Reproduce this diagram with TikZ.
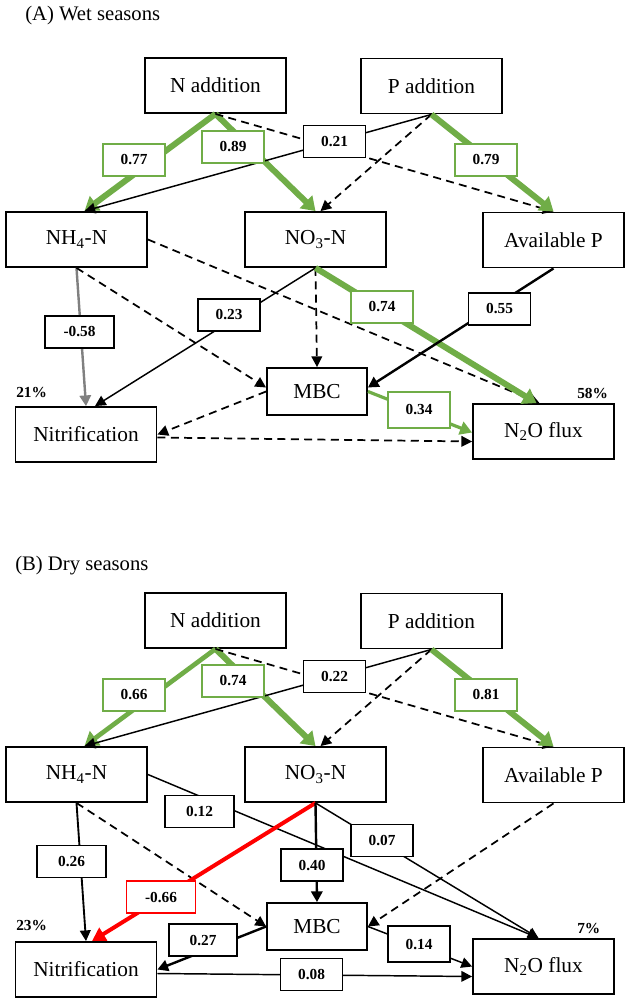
\documentclass[tikz,border=0pt]{standalone}
\usepackage{fontspec}
\setmainfont{Liberation Serif}
\usetikzlibrary{arrows.meta,calc}
\definecolor{sem}{HTML}{70AD47}
\definecolor{semneg}{HTML}{FF0000}
\definecolor{semgray}{HTML}{808080}

\begin{document}
\begin{tikzpicture}[x=0.75pt, y=-0.75pt,
    every node/.style={font=\fontsize{16}{19}\selectfont},
    var/.style={draw, line width=1.4pt, fill=white, minimum width=105.75pt,
                minimum height=41.25pt, inner sep=2pt},
    coef/.style={draw, line width=1.1pt, fill=white, minimum width=46.5pt,
                 minimum height=24pt, inner sep=1pt, font=\fontsize{11.5}{13}\selectfont\bfseries},
    coefpos/.style={coef, draw=sem},
    coefneg/.style={coef, draw=semneg},
    pct/.style={anchor=base west, inner sep=0pt, font=\fontsize{11.5}{13}\selectfont\bfseries},
    ttl/.style={anchor=base west, inner sep=0pt, font=\fontsize{15.5}{18}\selectfont},
    rel/.style={-{Triangle[length=8pt,width=8pt]}, line width=1.1pt},
    relm/.style={-{Triangle[length=8pt,width=8.5pt]}, line width=1.8pt},
    relns/.style={-{Triangle[length=8pt,width=8pt]}, line width=1.3pt, dash pattern=on 6pt off 4pt},
    relgray/.style={-{Triangle[length=8pt,width=8.5pt]}, draw=semgray, line width=1.8pt},
    relpos/.style={-{Triangle[length=10pt,width=13pt]}, draw=sem, line width=4.5pt},
    relposm/.style={-{Triangle[length=9pt,width=10pt]}, draw=sem, line width=2.4pt},
    relneg/.style={-{Triangle[length=10pt,width=11pt]}, draw=semneg, line width=3pt},
  ]
  \fill[white] (0,0) rectangle (629,1002);
  \useasboundingbox (0,0) rectangle (629,1002);

  % panel titles
  \node[ttl] (atitle) at (25,20.5) {(A) Wet seasons};
  \node[ttl] (btitle) at (15,570) {(B) Dry seasons};

  % the eight variables, once per panel
  \foreach \p/\dy in {a/0, b/535} {
    \node[var] (\p Nadd) at (215.5, 85.5+\dy) {N addition};
    \node[var] (\p Padd) at (431.5, 86+\dy) {P addition};
    \node[var] (\p NH) at (76.5, 239.5+\dy) {NH\textsubscript{4}-N};
    \node[var] (\p NO) at (315.5, 239.5+\dy) {NO\textsubscript{3}-N};
    \node[var] (\p AvP) at (553.5, 240+\dy) {Available P};
    \node[var, minimum width=75pt, minimum height=35.25pt] (\p MBC) at (317, 391.5+\dy) {MBC};
    \node[var] (\p Nit) at (86, 434.5+\dy) {Nitrification};
    \node[var] (\p NtO) at (543.5, 431.5+\dy) {N\textsubscript{2}O flux};
  }

  % (A) fertiliser onto the soil pools
  \draw[relpos] (aNadd.south) -- ($(aNH.north)+(8,0)$);
  \draw[relpos] (aNadd.south) -- (aNO.north);
  \draw[relns] (aNadd.south) -- (aAvP.north);
  \draw[rel] (aPadd.south) -- ($(aNH.north)+(8,0)$);
  \draw[relns] (aPadd.south) -- ($(aNO.north)+(5,0)$);
  \draw[relpos] (aPadd.south) -- (aAvP.north);

  % (A) soil pools onto nitrification, MBC and N2O
  \draw[relgray] (aNH.south) -- (aNit.north);
  \draw[relns] (aNH.south) -- ($(aMBC.west)+(0,-4)$);
  \draw[relns] (aNH.east) -- ($(aNtO.north)+(-4,0)$);
  \draw[rel] (aNO.south) -- ($(aNit.north)+(9,0)$);
  \draw[relns] (aNO.south) -- (aMBC.north);
  \draw[relpos] (aNO.south) -- ($(aNtO.north)+(-7,0)$);
  \draw[relm] (aAvP.south) -- ($(aMBC.east)+(0,-4)$);
  \draw[relns] (aMBC.west) -- (aNit.east);
  \draw[relposm] (aMBC.east) -- ($(aNtO.west)+(0,1)$);
  \draw[relns] ($(aNit.east)+(0,3)$) -- ($(aNtO.west)+(0,10)$);

  % (B) fertiliser onto the soil pools
  \draw[relpos, line width=3.5pt] (bNadd.south) -- ($(bNH.north)+(8,0)$);
  \draw[relpos] (bNadd.south) -- (bNO.north);
  \draw[relns] (bNadd.south) -- (bAvP.north);
  \draw[rel] (bPadd.south) -- ($(bNH.north)+(8,0)$);
  \draw[relns] (bPadd.south) -- ($(bNO.north)+(5,0)$);
  \draw[relpos] (bPadd.south) -- (bAvP.north);

  % (B) soil pools onto nitrification, MBC and N2O
  \draw[rel] (bNH.east) -- ($(bNtO.north)+(-5,0)$);
  \draw[rel, line width=1.4pt] (bNH.south) -- (bNit.north);
  \draw[relns] (bNH.south) -- (bMBC.west);
  \draw[relneg] (bNO.south) -- ($(bNit.north)+(6,0)$);
  \draw[relm] (bNO.south) -- (bMBC.north);
  \draw[rel] (bNO.south) -- ($(bNtO.north)+(-5,0)$);
  \draw[relns] (bAvP.south) -- (bMBC.east);
  \draw[relm] (bMBC.west) -- (bNit.east);
  \draw[rel] (bMBC.east) -- (bNtO.west);
  \draw[rel] ($(bNit.east)+(0,4)$) -- ($(bNtO.west)+(0,10)$);

  % path coefficients, (A)
  \node[coefpos] (aNaddNHc) at (134,160) {0.77};
  \node[coefpos] (aNaddNOc) at (233,147) {0.89};
  \node[coef] (aPaddNHc) at (334.5,141.5) {0.21};
  \node[coefpos] (aPaddAvPc) at (486,160) {0.79};
  \node[coef, minimum width=52pt] (aNHNitc) at (79.5,332) {-0.58};
  \node[coef] (aNONitc) at (229,315) {0.23};
  \node[coefpos] (aNONtOc) at (382,307) {0.74};
  \node[coef] (aAvPMBCc) at (499.5,309) {0.55};
  \node[coefpos, minimum height=27pt] (aMBCNtOc) at (419,410) {0.34};

  % path coefficients, (B)
  \node[coefpos] (bNaddNHc) at (134,695) {0.66};
  \node[coefpos] (bNaddNOc) at (233,681) {0.74};
  \node[coef] (bPaddNHc) at (334.5,676.5) {0.22};
  \node[coefpos] (bPaddAvPc) at (486,695) {0.81};
  \node[coef, minimum width=52pt] (bNHNtOc) at (199.5,811.5) {0.12};
  \node[coef] (bNONtOc) at (382,840.5) {0.07};
  \node[coef] (bNOMBCc) at (312,865) {0.40};
  \node[coef, minimum width=52pt] (bNHNitc) at (71.5,861.5) {0.26};
  \node[coefneg, minimum width=52pt] (bNONitc) at (161,897) {-0.66};
  \node[coef, minimum width=51pt] (bMBCNitc) at (203,940) {0.27};
  \node[coef, minimum height=27pt] (bMBCNtOc) at (419,944) {0.14};
  \node[coef] (bNitNtOc) at (311.5,974.5) {0.08};

  % explained variance
  \node[pct] (aNitR2) at (16,397) {21\%};
  \node[pct] (aNtOR2) at (577,398.5) {58\%};
  \node[pct] (bNitR2) at (16,930) {23\%};
  \node[pct] (bNtOR2) at (577,933) {7\%};
\end{tikzpicture}
\end{document}
